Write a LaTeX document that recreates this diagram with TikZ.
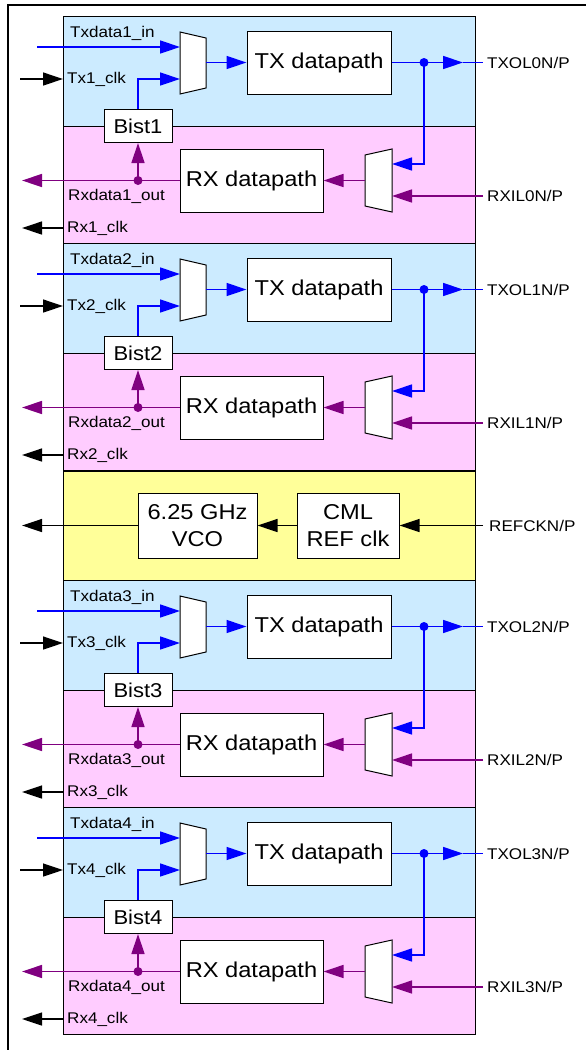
\documentclass[tikz,border=0pt]{standalone}
\usepackage{fontspec}
\setmainfont{Liberation Sans}[FakeStretch=1.1]
\usepackage{xcolor}
\usetikzlibrary{arrows.meta,positioning}
\definecolor{txbg}{HTML}{CCEBFF}
\definecolor{rxbg}{HTML}{FFCCFF}
\definecolor{refbg}{HTML}{FFFF99}
\definecolor{rxpurple}{HTML}{800080}
\tikzset{
  lane/.style={draw=black, line width=1pt},
  blk/.style={draw=black, fill=white, line width=1pt, inner sep=0pt, align=center, font=\fontsize{21.5}{27}\selectfont},
  muxbox/.style={draw=black, fill=white, line width=1pt},
  pinlbl/.style={inner sep=0pt, anchor=west, font=\fontsize{15.5}{18}\selectfont},
  txsig/.style={draw=blue, line width=1.4pt},
  rxsig/.style={draw=rxpurple, line width=1.4pt},
  clk/.style={draw=black, line width=1.3pt},
  arr/.style={-{Triangle[length=20pt,width=13pt]}},
}

\begin{document}
\begin{tikzpicture}[x=1pt, y=-1pt]
    \useasboundingbox (0,0) rectangle (586,1050);
    \draw[line width=1.3pt] (8,1050) -- (8,5) -- (586,5);

    % four serdes lanes
    \foreach \y/\n/\m in {16/1/0, 243/2/1, 580/3/2, 807/4/3}{
        \draw[lane, fill=txbg] (63,\y) rectangle (475,\y+110);
        \draw[lane, fill=rxbg] (63,\y+110) rectangle (475,\y+227);
        \node[blk, minimum width=144pt, minimum height=63pt] (tx\n) at (319,\y+46.5) {TX datapath};
        \node[blk, minimum width=143pt, minimum height=63pt] (rx\n) at (251.5,\y+164.5) {RX datapath};
        \node[blk, minimum width=68pt, minimum height=33pt, font=\fontsize{20}{24}\selectfont] (bist\n) at (138,\y+110) {Bist\n};
        \draw[muxbox] (180,\y+16) -- (206,\y+22) -- (206,\y+72) -- (180,\y+78) -- cycle;
        \draw[muxbox] (392,\y+133) -- (365,\y+139) -- (365,\y+190) -- (392,\y+196) -- cycle;
        \coordinate (txa\n) at (180,\y+31);
        \coordinate (txb\n) at (180,\y+63);
        \coordinate (txo\n) at (206,\y+46.5);
        \coordinate (rxa\n) at (392,\y+148);
        \coordinate (rxb\n) at (392,\y+180);
        \coordinate (rxo\n) at (365,\y+164.5);
        \node[pinlbl] (tdi\n) at (70,\y+17) {Txdata\n\_in};
        \node[pinlbl] (tck\n) at (67,\y+63) {Tx\n\_clk};
        \node[pinlbl] (rdo\n) at (68,\y+180) {Rxdata\n\_out};
        \node[pinlbl] (rck\n) at (67,\y+212) {Rx\n\_clk};
        \node[pinlbl] (txol\n) at (487,\y+46.5) {TXOL\m{}N/P};
        \node[pinlbl] (rxil\n) at (487,\y+180) {RXIL\m{}N/P};
        % tx path
        \coordinate (tdsrc\n) at (37,\y+31);
        \coordinate (tcksrc\n) at (20,\y+63);
        \coordinate (tckin\n) at (63,\y+63);
        \draw[txsig, arr] (tdsrc\n) -- (txa\n);
        \draw[clk, arr] (tcksrc\n) -- (tckin\n);
        \draw[txsig, arr] (bist\n.north) |- (txb\n);
        \draw[txsig, arr] (txo\n) -- (tx\n.west);
        \coordinate (txdot\n) at (424,\y+46.5);
        \coordinate (txtip\n) at (463,\y+46.5);
        \coordinate (txend\n) at (483,\y+46.5);
        \draw[txsig] (tx\n.east) -- (txdot\n);
        \draw[txsig, arr] (txdot\n) -- (txtip\n);
        \draw[txsig] (txtip\n) -- (txend\n);
        \draw[txsig, arr] (txdot\n) |- (rxa\n);
        \fill[blue] (txdot\n) circle (4.5pt);
        % rx path
        \coordinate (rxend\n) at (483,\y+180);
        \coordinate (rdout\n) at (22,\y+164.5);
        \coordinate (rckin\n) at (63,\y+212);
        \coordinate (rckout\n) at (22,\y+212);
        \draw[rxsig, arr] (rxend\n) -- (rxb\n);
        \draw[rxsig, arr] (rxo\n) -- (rx\n.east);
        \draw[rxsig, arr] (rx\n.west) -- (rdout\n);
        \coordinate (rxdot\n) at (bist\n.south |- rx\n.west);
        \draw[rxsig, arr] (rxdot\n) -- (bist\n.south);
        \fill[rxpurple] (rxdot\n) circle (4.5pt);
        \draw[clk, arr] (rckin\n) -- (rckout\n);
    }

    % reference clock
    \draw[lane, fill=refbg] (63,471) rectangle (475,580);
    \node[blk, minimum width=119pt, minimum height=65pt] (vco) at (197.5,525.5) {6.25 GHz\\VCO};
    \node[blk, minimum width=102pt, minimum height=65pt] (cml) at (348,525.5) {CML\\REF clk};
    \node[pinlbl] (refck) at (489,525.5) {REFCKN/P};
    \coordinate (refin) at (483,525.5);
    \coordinate (vcoout) at (22,525.5);
    \draw[clk, arr] (refin) -- (cml);
    \draw[clk, arr] (cml) -- (vco);
    \draw[clk, arr] (vco) -- (vcoout);
\end{tikzpicture}
\end{document}
